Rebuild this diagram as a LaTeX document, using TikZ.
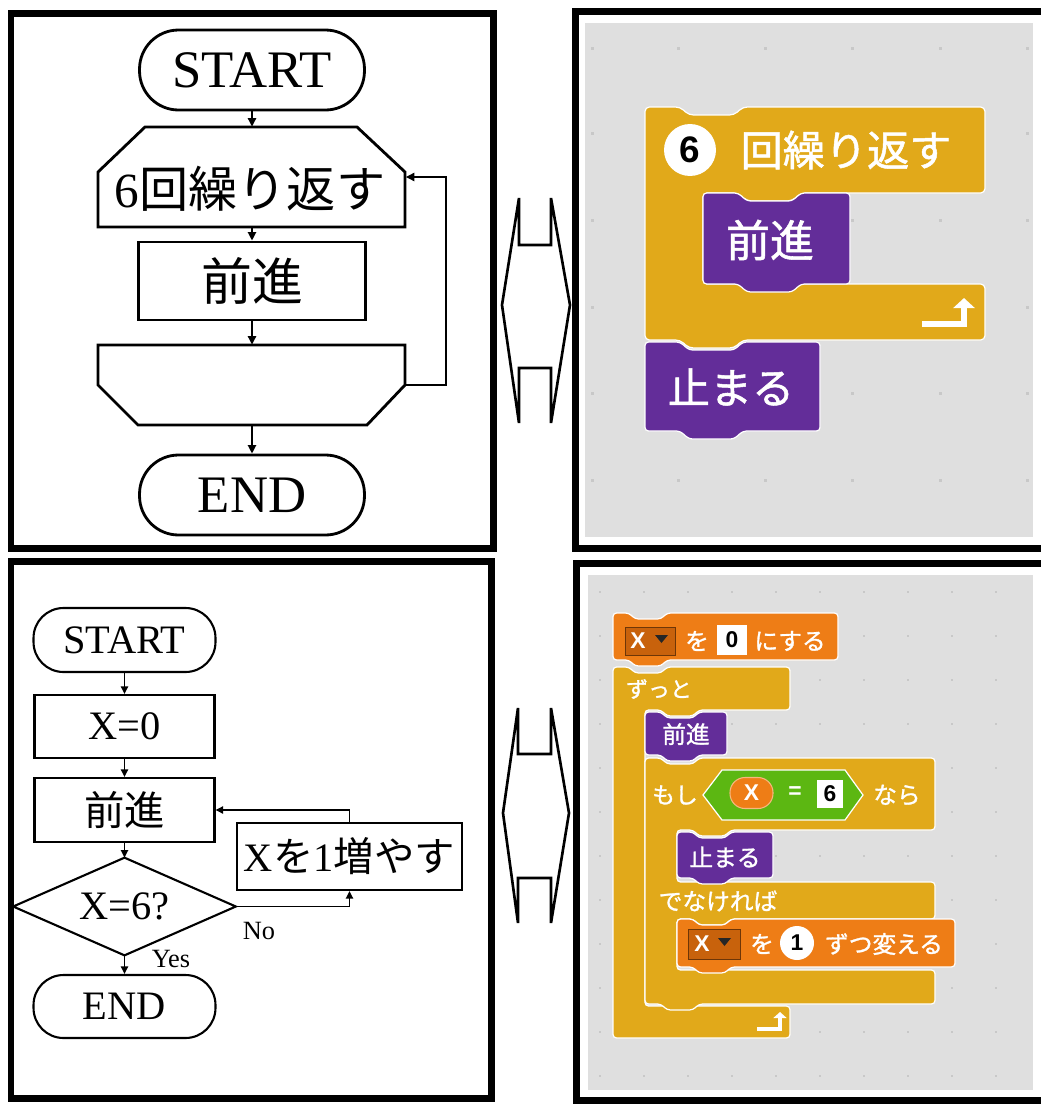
\documentclass[tikz,border=0pt]{standalone}
\usepackage{fontspec}
\setmainfont{Liberation Serif}
\newfontfamily\cjk{Noto Sans CJK JP}
\newfontfamily\cjkw[FakeBold=1.2]{Noto Sans CJK JP}
\newfontfamily\lsans{Liberation Sans}
\usetikzlibrary{arrows.meta}
\definecolor{ctrl}{HTML}{E1A91A}
\definecolor{mpurple}{HTML}{632D99}
\definecolor{dorange}{HTML}{EE7D16}
\definecolor{dinset}{HTML}{C8620C}
\definecolor{opgreen}{HTML}{5CB712}
\definecolor{bggray}{HTML}{DFDFDF}
\definecolor{dotgray}{HTML}{C8C8C8}
\newcommand\fs[1]{\fontsize{#1pt}{#1pt}\selectfont}
\newcommand\na{35}\newcommand\ns{9}\newcommand\nf{45}\newcommand\nd{8}
\newcommand\stk[5]{%
\filldraw[sb,fill=#5] (#1,#2) -- ++(\na,0) -- ++(\ns,\nd) -- ++(\nf,0) -- ++(\ns,-\nd) -- (#3,#2) -- (#3,#4) -- ({#1+\na+2*\ns+\nf},#4) -- ++(-\ns,\nd) -- ++(-\nf,0) -- ++(-\ns,-\nd) -- (#1,#4) -- cycle;}
\begin{document}
\begin{tikzpicture}[x=0.02cm,y=-0.02cm,
  flA/.style={draw,line width=1.6pt},
  flB/.style={draw,line width=1.2pt},
  arrA/.style={line width=1.4pt,-{Triangle[length=0.17cm,width=0.16cm]}},
  arrB/.style={line width=1.1pt,-{Triangle[length=0.15cm,width=0.14cm]}},
  frm/.style={line width=0.14cm},
  sb/.style={draw=white,line width=0.7pt,rounded corners=2pt},
  tA/.style={inner sep=0pt,font=\fs{30}},
  tB/.style={inner sep=0pt,font=\fs{23}},
  sw/.style={inner sep=0pt,text=white,font=\cjkw\fs{24}},
  swb/.style={inner sep=0pt,text=white,font=\cjkw\fs{13.5}},
  lat/.style={inner sep=0pt,text=white,font=\lsans\bfseries\fs{13}},
  dots/.style={fill=dotgray}
]
\useasboundingbox (0,0) rectangle (1041,1106);
\fill[white] (0,0) rectangle (1041,1106);

% ================= top-left flowchart =================
\draw[frm] (11,13.5) rectangle (493.5,548);
\node[tA,flA,rounded corners=0.78cm,minimum width=4.5cm,minimum height=1.6cm] (s1) at (252,70) {START};
\node[inner sep=0pt,minimum width=6.14cm,minimum height=2cm] (la) at (252,177) {};
\draw[flA] (98,227) -- (98,172) -- (145,127) -- (357,127) -- (405,172) -- (405,227) -- cycle;
\node[inner sep=0pt,font=\fs{28}] (lat1) at (250,189) {6{\cjk 回繰り返す}};
\node[tA,flA,minimum width=4.54cm,minimum height=1.56cm] (f1) at (252,281) {\cjk\fs{29}前進};
\node[inner sep=0pt,minimum width=6.14cm,minimum height=1.6cm] (lb) at (252,385) {};
\draw[flA] (98,345) -- (405,345) -- (405,385) -- (367,425) -- (138,425) -- (98,385) -- cycle;
\node[tA,flA,rounded corners=0.78cm,minimum width=4.5cm,minimum height=1.6cm] (e1) at (252,495) {END};
\draw[arrA] (s1.south) -- (la.north);
\draw[arrA] (la.south) -- (f1.north);
\draw[arrA] (f1.south) -- (lb.north);
\draw[arrA] (lb.south) -- (e1.north);
\draw[arrA] (lb.east) -- ++(40,0) |- ([yshift=0cm]la.east);

% ================= bottom-left flowchart =================
\draw[frm] (11,561) rectangle (491.5,1098.5);
\node[tB,flB,rounded corners=0.6cm,minimum width=3.64cm,minimum height=1.28cm] (s2) at (124.5,640) {START};
\node[tB,flB,minimum width=3.6cm,minimum height=1.26cm] (x0) at (124.5,726.5) {X=0};
\node[tB,flB,minimum width=3.6cm,minimum height=1.28cm] (f2) at (124.5,810) {\cjk 前進};
\node[inner sep=0pt,minimum width=4.44cm,minimum height=1.94cm] (dia) at (124.5,906.5) {};
\draw[flB] (dia.north) -- (dia.east) -- (dia.south) -- (dia.west) -- cycle;
\node[tB] (diat) at (124.5,906.5) {X=6?};
\node[tB,flB,rounded corners=0.6cm,minimum width=3.64cm,minimum height=1.26cm] (e2) at (124.5,1006.5) {END};
\node[tB,flB,minimum width=4.5cm,minimum height=1.34cm] (inc) at (349.5,856.5) {X{\cjk を}1{\cjk 増やす}};
\draw[arrB] (s2.south) -- (x0.north);
\draw[arrB] (x0.south) -- (f2.north);
\draw[arrB] (f2.south) -- (dia.north);
\draw[arrB] (dia.south) -- (e2.north);
\draw[arrB] (dia.east) -| (inc.south);
\draw[arrB] (inc.north) |- (f2.east);
\node[inner sep=0pt,font=\fs{15}] (no) at (259,931) {No};
\node[inner sep=0pt,font=\fs{15}] (yes) at (171,959) {Yes};

% ================= double arrows =================
\draw[line width=1.5pt,line join=miter] (519,198) -- (519,245) -- (551,245) -- (551,198) -- (570,305) -- (551,423) -- (551,368) -- (519,368) -- (519,423) -- (502,305) -- cycle;
\draw[line width=1.5pt,line join=miter] (518,708) -- (518,754) -- (551,754) -- (551,708) -- (569,813) -- (551,923) -- (551,878) -- (518,878) -- (518,923) -- (503,813) -- cycle;

% ================= top-right scratch =================
\fill[bggray] (585,23) rectangle (1033,537);
\foreach \xx in {592,678,765,852,940,1027}
  \foreach \yy in {48,133,220,307,393,480}
    \fill[dots] (\xx-1.5,\yy-1.5) rectangle (\xx+1.5,\yy+1.5);
\draw[frm] (1050,11.5) -- (575,11.5) -- (575,548) -- (1050,548);
% repeat C block
\filldraw[sb,fill=ctrl,rounded corners=2.5pt] (645,107) -- (680,107) -- (689,115) -- (734,115) -- (743,107) -- (985,107) -- (985,193) -- (801,193) -- (792,201) -- (747,201) -- (738,193) -- (703,193) -- (703,284) -- (985,284) -- (985,340) -- (743,340) -- (734,348) -- (689,348) -- (680,340) -- (645,340) -- cycle;
\node[circle,fill=white,inner sep=0pt,minimum size=1.04cm,font=\lsans\bfseries\fs{21}] (six) at (690,150) {6};
\node[sw] (rep) at (846,150) {回繰り返す};
\draw[white,line width=3pt,-{Triangle[length=0.2cm,width=0.42cm]}] (922,324) -- (964,324) -- (964,298);
\stk{703}{193}{850}{284}{mpurple}
\node[sw,font=\cjkw\fs{25}] (fw1) at (770,240) {前進};
\stk{645}{342}{820}{431}{mpurple}
\node[sw] (st1) at (731,387) {止まる};

% ================= bottom-right scratch =================
\fill[bggray] (588,575) rectangle (1033,1090);
\foreach \xx in {600,644,...,1030}
  \foreach \yy in {592,636,...,1085}
    \fill[dots] (\xx-1,\yy-1) rectangle (\xx+1,\yy+1);
\draw[frm] (1050,563.5) -- (576.5,563.5) -- (576.5,1100) -- (1050,1100);
\renewcommand\na{16}\renewcommand\ns{6}\renewcommand\nf{26}\renewcommand\nd{6}
% set block
\stk{613}{613}{838}{660}{dorange}
\filldraw[fill=dinset,draw=black!45!dinset,line width=0.5pt] (625,627) rectangle (675,655);
\node[lat] (sx) at (638,641) {X};
\fill[black!85] (655,635) -- (668,635) -- (661.5,643) -- cycle;
\node[swb] (wo1) at (697,641) {を};
\node[fill=white,inner sep=0pt,minimum width=0.6cm,minimum height=0.6cm,font=\lsans\bfseries\fs{13}] (zero) at (732,640) {0};
\node[swb] (ni) at (790,641) {にする};
% forever
\filldraw[sb,fill=ctrl] (613,667) -- (629,667) -- (635,673) -- (661,673) -- (667,667) -- (790,667) -- (790,710) -- (699,710) -- (693,716) -- (667,716) -- (661,710) -- (645,710) -- (645,1006) -- (790,1006) -- (790,1038) -- (613,1038) -- cycle;
\node[swb,font=\cjkw\fs{12.5}] (zutto) at (659,689) {ずっと};
\draw[white,line width=1.8pt,-{Triangle[length=0.12cm,width=0.26cm]}] (757,1029) -- (780,1029) -- (780,1012);
% forward
\stk{645}{712}{727}{755}{mpurple}
\node[swb] (fw2) at (686,734) {前進};
% if-else
\filldraw[sb,fill=ctrl] (645,758) -- (661,758) -- (667,764) -- (693,764) -- (699,758) -- (935,758) -- (935,830) -- (731,830) -- (725,836) -- (699,836) -- (693,830) -- (677,830) -- (677,882) -- (935,882) -- (935,919) -- (731,919) -- (725,925) -- (699,925) -- (693,919) -- (677,919) -- (677,970) -- (935,970) -- (935,1004) -- (699,1004) -- (693,1010) -- (667,1010) -- (661,1004) -- (645,1004) -- cycle;
\node[swb,font=\cjkw\fs{13}] (moshi) at (675,795) {もし};
\filldraw[fill=opgreen,draw=white,line width=0.7pt] (703,795) -- (722,770) -- (845,770) -- (863,795) -- (845,820) -- (722,820) -- cycle;
\node[fill=dorange,draw=white!45!dorange,line width=0.6pt,rounded corners=0.3cm,inner sep=0pt,minimum width=0.86cm,minimum height=0.62cm,text=white,font=\lsans\bfseries\fs{13}] (xr) at (751.5,793) {X};
\node[lat] (eq) at (795,793) {=};
\node[fill=white,inner sep=0pt,minimum width=0.52cm,minimum height=0.56cm,font=\lsans\bfseries\fs{13}] (sixb) at (830,794) {6};
\node[swb] (nara) at (897,795) {なら};
\node[swb] (else) at (718,901) {でなければ};
% stop
\stk{677}{832}{773}{878}{mpurple}
\node[swb] (st2) at (725,857) {止まる};
% change block
\stk{677}{919}{955}{967}{dorange}
\filldraw[fill=dinset,draw=black!45!dinset,line width=0.5pt] (688,929) rectangle (740,959);
\node[lat] (cx) at (702,944) {X};
\fill[black!85] (718,938) -- (731,938) -- (724.5,946) -- cycle;
\node[swb] (wo2) at (762,944) {を};
\node[circle,fill=white,inner sep=0pt,minimum size=0.68cm,font=\lsans\bfseries\fs{13}] (one) at (797,943) {1};
\node[swb] (chg) at (884,944) {ずつ変える};
\end{tikzpicture}
\end{document}
